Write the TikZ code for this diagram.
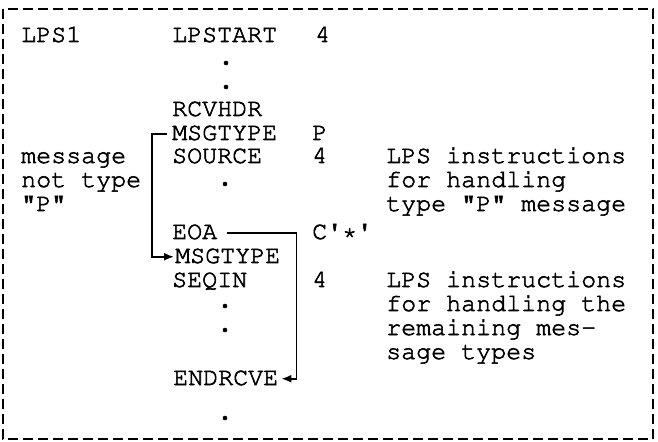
\documentclass[tikz,border=0pt]{standalone}
\usepackage[T1]{fontenc}
\usetikzlibrary{arrows.meta}
% slightly heavier typewriter strokes: fill and stroke the glyph outlines
\newcommand{\typeweight}{\special{pdf:literal direct 2 Tr 0.55 w}}
\tikzset{
  code/.style={anchor=base west, inner sep=0pt, text height=12.5bp, text depth=0pt,
    font=\fontfamily{pcr}\fontsize{25bp}{24bp}\selectfont\typeweight},
  link/.style={line width=1.8bp},
  tip/.style={-{Latex[length=10bp,width=8bp]}},
  frame/.style={line width=1.7bp, dash pattern=on 10bp off 5bp},
  spot/.style={radius=2.3bp}
}
\begin{document}
\begin{tikzpicture}[x=1bp,y=-1bp]
\useasboundingbox (0,0) rectangle (658,442);
\draw[frame] (3,9) rectangle (653,439);

% label column
\node[code] (lps1) at (21,42) {LPS1};
\node[code] (lmsg) at (21,163) {message};
\node[code] (lnot) at (21,187) {not type};
\node[code] (lp)   at (21,211) {\textquotedbl P\textquotedbl};

% operation column
\node[code] (lpstart) at (172,42)  {LPSTART};
\node[code] (rcvhdr)  at (172,116) {RCVHDR};
\node[code] (msg1)    at (172,140) {MSGTYPE};
\node[code] (source)  at (172,163) {SOURCE};
\node[code] (eoa)     at (172,239) {EOA};
\node[code] (msg2)    at (175,263) {MSGTYPE};
\node[code] (seqin)   at (172,287) {SEQIN};
\node[code] (endr)    at (173,385) {ENDRCVE};

% operand column
\node[code] (o1) at (315,42)  {4};
\node[code] (o2) at (312,140) {P};
\node[code] (o3) at (312,163) {4};
\node[code] (o4) at (312,239) {C\textquotesingle*\textquotesingle};
\node[code] (o5) at (312,287) {4};

% comment column
\node[code] (c1) at (386,163) {LPS instructions};
\node[code] (c2) at (386,187) {for handling};
\node[code] (c3) at (386,211) {type \textquotedbl P\textquotedbl{} message};
\node[code] (c4) at (386,287) {LPS instructions};
\node[code] (c5) at (386,311) {for handling the};
\node[code] (c6) at (386,335) {remaining mes-};
\node[code] (c7) at (386,359) {sage types};

% continuation dots
\fill[spot] (226,63) circle;
\fill[spot] (226,87) circle;
\fill[spot] (225,184) circle;
\fill[spot] (225,306) circle;
\fill[spot] (225,330) circle;
\fill[spot] (225,418) circle;

% branch for messages not of type P
\draw[link,tip] ([xshift=-5bp]msg1.west) -- ++(-15,0) |- ([xshift=-1bp]msg2.west);
% branch from end of type P handling
\draw[link,tip] ([xshift=10bp]eoa.east) -- ++(69,0) |- ([xshift=3bp]endr.east);
\end{tikzpicture}
\end{document}
